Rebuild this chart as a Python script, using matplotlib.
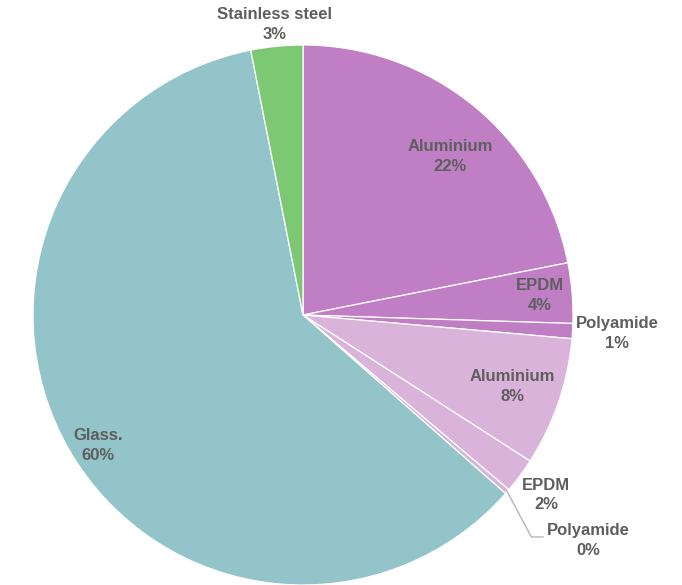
"""
Pie chart of material shares (by weight) for a window frame build-up.
"""
import numpy as np
import matplotlib.pyplot as plt

plt.rcParams['font.family'] = ['Liberation Sans', 'DejaVu Sans']

# Slices run clockwise from twelve o'clock
materials = ['Aluminium', 'EPDM', 'Polyamide', 'Aluminium', 'EPDM', 'Polyamide',
             'Glass.', 'Stainless steel']
shares = [21.9, 3.6, 0.9, 7.7, 2.1, 0.3, 60.4, 3.1]
colors = ['#c07fc4', '#c07fc4', '#c07fc4', '#dab3da', '#dab3da', '#dab3da',
          '#93c4ca', '#7dc873']

# Label placement: radius (in pie radii) and angle nudge (deg) per slice
label_r = [0.80, 0.88, 1.165, 0.82, 1.12, 1.34, 0.90, 1.08]
label_dang = [-3.5, 0, 0, 0, 0, 0, 2.5, 0]

OUTPUT_PATH = 'out.png'


def main():
    fig = plt.figure(figsize=(6.82, 5.85), dpi=100)
    ax = fig.add_axes([0, 0, 1, 1])

    wedges, _ = ax.pie(shares, colors=colors, startangle=90, counterclock=False,
                       radius=1.0, wedgeprops=dict(edgecolor='white', linewidth=0.9))

    text_kw = dict(ha='center', va='center', fontsize=12, fontweight='bold',
                   color='#5e5e5e', linespacing=1.4)
    for i, (w, name, val) in enumerate(zip(wedges, materials, shares)):
        mid = np.deg2rad((w.theta1 + w.theta2) / 2 + label_dang[i])
        r = label_r[i]
        x, y = r * np.cos(mid), r * np.sin(mid)
        if i == 5:
            # tiny slice: label sits further out with a leader line
            x, y = 1.056, -0.835
            edge = np.deg2rad((w.theta1 + w.theta2) / 2)
            ax.annotate('', xy=(np.cos(edge), np.sin(edge)), xytext=(0.89, -0.822),
                        arrowprops=dict(arrowstyle='-', color='#b5b5b5', lw=1.0,
                                        shrinkA=0, shrinkB=0,
                                        connectionstyle='angle,angleA=0,angleB=118'))
        ax.text(x, y, f'{name}\n{round(val):d}%', **text_kw)

    ax.set_xlim(-303 / 270, (682 - 303) / 270)
    ax.set_ylim(-(585 - 315) / 270, 315 / 270)
    ax.set_aspect('auto')
    ax.axis('off')

    fig.savefig(OUTPUT_PATH, dpi=100, facecolor='white')
    plt.close(fig)


if __name__ == '__main__':
    main()
